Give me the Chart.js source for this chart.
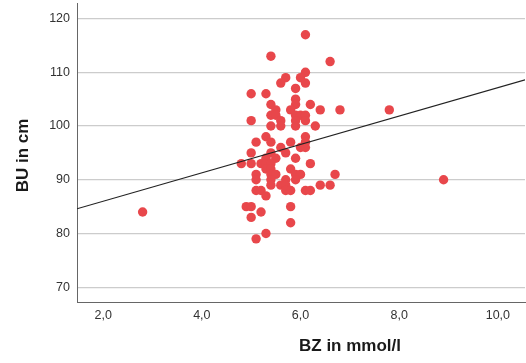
<!DOCTYPE html>
<html>
<head>
<meta charset="utf-8">
<script src="https://cdn.jsdelivr.net/npm/chart.js@4/dist/chart.umd.min.js"></script>
<style>
html,body{margin:0;padding:0;background:#fff;}
#wrap{width:526px;height:363px;position:relative;}
</style>
</head>
<body>
<div id="wrap"><canvas id="c" width="526" height="363"></canvas></div>
<script>
// BZ (mmol/l) and BU (cm)
const bzValues = [
  6.1,
  5.4,
  6.6,
  6.1,
  5.7, 6.0,
  5.6, 6.1,
  5.9,
  5.0, 5.3,
  5.9,
  5.4, 5.9, 6.2,
  5.5, 5.8, 6.4, 6.8, 7.8,
  5.4, 5.5, 5.9, 6.0, 6.1,
  5.0, 5.6, 5.9, 6.1,
  5.4, 5.6, 5.9, 6.3,
  5.3, 6.1,
  5.1, 5.4, 5.8, 6.1,
  5.6, 6.0, 6.1,
  5.0, 5.4, 5.7,
  5.3, 5.5, 5.9,
  4.8, 5.0, 5.2, 5.3, 5.4, 6.2,
  5.3, 5.4, 5.8,
  5.1, 5.4, 5.5, 5.9, 6.0, 6.7,
  5.1, 5.4, 5.7, 5.9, 8.9,
  5.4, 5.6, 5.7, 6.4, 6.6,
  5.1, 5.2, 5.7, 5.8, 6.1, 6.2,
  5.3,
  4.9, 5.0, 5.8,
  2.8, 5.2,
  5.0,
  5.8,
  5.3,
  5.1
];
const buValues = [
  117,
  113,
  112,
  110,
  109, 109,
  108, 108,
  107,
  106, 106,
  105,
  104, 104, 104,
  103, 103, 103, 103, 103,
  102, 102, 102, 102, 102,
  101, 101, 101, 101,
  100, 100, 100, 100,
  98, 98,
  97, 97, 97, 97,
  96, 96, 96,
  95, 95, 95,
  94, 94, 94,
  93, 93, 93, 93, 93, 93,
  92, 92, 92,
  91, 91, 91, 91, 91, 91,
  90, 90, 90, 90, 90,
  89, 89, 89, 89, 89,
  88, 88, 88, 88, 88, 88,
  87,
  85, 85, 85,
  84, 84,
  83,
  82,
  80,
  79
];
// fit line end points
const fitLineX = [1.47, 10.55];
const fitLineY = [84.6, 108.6];
const xTickValues = [2, 4, 6, 8, 10];
const yTickValues = [70, 80, 90, 100, 110, 120];
const xTitle = 'BZ in mmol/l';
const yTitle = 'BU in cm';

const points = bzValues.map((v, i) => ({x: v, y: buValues[i]}));
const fitPoints = fitLineX.map((v, i) => ({x: v, y: fitLineY[i]}));

const titlePlugin = {
  id: 'axisTitles',
  afterDraw(chart) {
    const {ctx, chartArea} = chart;
    ctx.save();
    ctx.fillStyle = '#1a1a1a';
    ctx.font = 'bold 17px "Liberation Sans", Arial, sans-serif';
    ctx.textAlign = 'center';
    ctx.textBaseline = 'middle';
    ctx.fillText(xTitle, 350, 346);
    ctx.translate(23, (chartArea.top + chartArea.bottom) / 2 + 3);
    ctx.rotate(-Math.PI / 2);
    ctx.fillText(yTitle, 0, 0);
    ctx.restore();
  }
};

new Chart(document.getElementById('c'), {
  type: 'scatter',
  data: {
    datasets: [
      {
        type: 'line',
        data: fitPoints,
        borderColor: '#222222',
        borderWidth: 1.2,
        pointRadius: 0,
        fill: false,
        order: 0
      },
      {
        data: points,
        backgroundColor: '#e8474b',
        borderWidth: 0,
        pointRadius: 4.7,
        pointHoverRadius: 4.7,
        order: 1
      }
    ]
  },
  options: {
    responsive: false,
    animation: false,
    events: [],
    layout: {autoPadding: false, padding: {top: 3, right: 1, left: 0, bottom: 0}},
    plugins: {legend: {display: false}, tooltip: {enabled: false}},
    scales: {
      x: {
        type: 'linear',
        min: 1.47,
        max: 10.55,
        afterBuildTicks(scale) { scale.ticks = xTickValues.map(v => ({value: v})); },
        afterFit(scale) { scale.height = 61; scale.paddingLeft = 0; scale.paddingRight = 0; },
        grid: {display: false, drawTicks: false},
        border: {display: true, color: '#666666', width: 1},
        ticks: {
          padding: 6,
          color: '#333333',
          font: {family: '"Liberation Sans", Arial, sans-serif', size: 12.5},
          maxRotation: 0,
          callback: v => v.toFixed(1).replace('.', ',')
        }
      },
      y: {
        type: 'linear',
        min: 67.25,
        max: 122.9,
        afterBuildTicks(scale) { scale.ticks = yTickValues.map(v => ({value: v})); },
        afterFit(scale) { scale.width = 77; scale.paddingTop = 0; scale.paddingBottom = 0; },
        grid: {color: '#cccccc', lineWidth: 1.3, drawTicks: false},
        border: {display: true, color: '#666666', width: 1},
        ticks: {
          padding: 7,
          color: '#333333',
          font: {family: '"Liberation Sans", Arial, sans-serif', size: 12.5}
        }
      }
    }
  },
  plugins: [titlePlugin]
});
</script>
</body>
</html>
